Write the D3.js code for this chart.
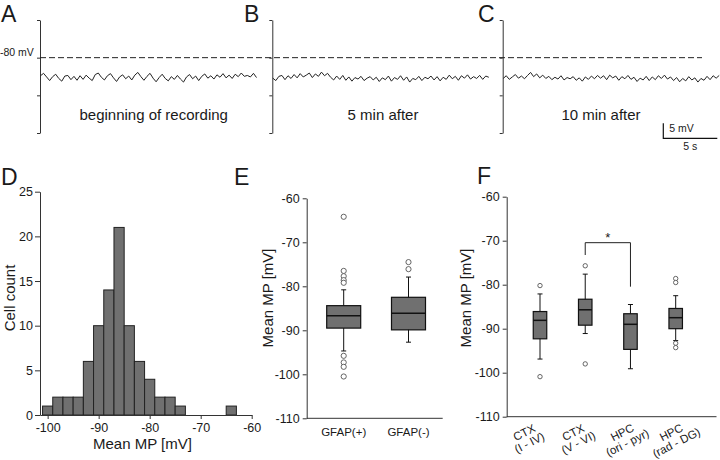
<!DOCTYPE html>
<html><head><meta charset="utf-8">
<script src="https://cdn.jsdelivr.net/npm/d3@7"></script>
<style>
html,body{margin:0;padding:0;background:#fff;}
svg{display:block;font-family:"Liberation Sans",Arial,Helvetica,sans-serif;}
</style></head>
<body><svg id="c" width="720" height="460"></svg>
<script>
// ---------- DATA ----------
const traceA = [-86.0,-85.2,-86.4,-87.6,-86.3,-85.5,-86.9,-87.8,-86.1,-85.9,-87.3,-86.2,-87.5,-86.0,-87.2,-85.8,-86.8,-87.6,-85.6,-85.1,-86.5,-87.4,-86.0,-85.3,-86.7,-87.9,-86.4,-85.7,-87.0,-86.1,-87.4,-85.8,-84.9,-86.3,-87.5,-86.2,-85.2,-86.8,-88.0,-86.6,-85.5,-86.9,-87.7,-86.3,-87.2,-85.9,-87.1,-88.1,-86.4,-85.6,-87.0,-86.1,-87.6,-86.2,-85.4,-86.8,-86.0,-87.1,-85.7,-86.5,-85.3,-86.7,-85.8,-86.9,-85.5,-86.3,-85.1,-86.2,-85.9,-86.4,-85.2,-86.6];
const traceB = [-86.8,-87.6,-86.2,-85.9,-87.3,-86.0,-86.9,-85.6,-86.7,-85.3,-86.4,-85.8,-85.1,-86.6,-85.4,-86.2,-84.8,-86.0,-85.2,-86.5,-87.4,-86.1,-87.2,-85.9,-87.5,-86.4,-87.8,-86.6,-87.1,-86.2,-87.6,-86.8,-86.3,-87.4,-86.5,-87.9,-86.7,-87.3,-86.1,-87.8,-86.6,-87.2,-86.0,-87.5,-86.4,-88.1,-86.9,-87.3,-86.2,-87.6,-86.5,-87.0,-86.1,-87.4,-86.3,-87.7,-86.5,-87.2,-85.8,-87.0,-86.2,-87.5,-86.0,-86.8,-85.7,-87.1,-86.3,-86.9,-85.9,-87.2,-86.1,-86.5];
const traceC = [-86.9,-86.0,-87.2,-86.4,-85.6,-86.8,-86.1,-87.0,-85.9,-84.9,-86.3,-85.4,-86.7,-85.8,-86.9,-86.2,-87.3,-86.5,-87.1,-86.0,-87.4,-86.6,-87.0,-86.3,-87.5,-86.7,-87.8,-86.4,-87.2,-86.1,-87.0,-85.9,-86.8,-86.0,-87.3,-85.8,-86.7,-86.1,-87.5,-86.3,-87.0,-85.9,-87.2,-86.5,-87.9,-86.8,-87.4,-86.2,-87.6,-86.4,-87.3,-86.0,-86.9,-85.8,-87.1,-86.4,-87.6,-86.6,-88.0,-86.9,-87.7,-86.3,-87.4,-86.7,-88.1,-86.9,-87.5,-86.2,-87.3,-86.0,-86.8,-85.9];
const traceCaptions = ["beginning of recording", "5 min after", "10 min after"];
const traceLetters = ["A", "B", "C"];
const traceAxisTicks = [-67.5, -80, -92.5, -105];
const traceDuration = 20; // s

const histBinStart = [-101,-99,-97,-95,-93,-91,-89,-87,-85,-83,-81,-79,-77,-75,-73,-71,-69,-67,-65];
const histCounts   = [1,2,2,2,6,10,14,21,10,6,4,2,2,1,0,0,0,0,1];
const histXTicks = [-100,-90,-80,-70,-60];
const histYTicks = [0,5,10,15,20,25];

const eGroups = ["GFAP(+)", "GFAP(-)"];
const eWhiskerHi = [-80.8, -77.9];
const eQ3        = [-84.4, -82.5];
const eMedian    = [-86.7, -86.1];
const eQ1        = [-89.5, -89.9];
const eWhiskerLo = [-94.7, -92.7];
const eOutliers  = [[-64.2,-76.5,-77.7,-78.6,-79.2,-95.8,-97.3,-98.3,-100.5], [-74.5,-76.1]];

const fGroupsL1 = ["CTX", "CTX", "HPC", "HPC"];
const fGroupsL2 = ["(I - IV)", "(V - VI)", "(ori - pyr)", "(rad - DG)"];
const fWhiskerHi = [-82.1, -77.6, -84.5, -82.5];
const fQ3        = [-86.1, -83.3, -86.6, -85.4];
const fMedian    = [-88.1, -85.7, -89.0, -87.5];
const fQ1        = [-92.3, -89.2, -94.7, -90.0];
const fWhiskerLo = [-96.9, -91.1, -99.1, -92.7];
const fOutliers  = [[-80.2,-100.9], [-75.7,-98.0], [], [-78.6,-79.5,-93.3,-94.3]];
const fSig = {from: 1, to: 2, top: -70.45, leftEnd: -73.25, rightEnd: -80.45, label: "*"};
const mpTicks = [-60,-70,-80,-90,-100,-110];

// ---------- DRAW ----------
const svg = d3.select("#c");
const TXT = "#1a1a1a", AX = "#333", FILL = "#707070";
const font = (sel, size) => sel.attr("font-size", size).attr("fill", TXT);
const fmt = d => String(d);
function styleAxis(g, size) {
  g.attr("font-family", null).attr("font-size", null);
  g.select(".domain").attr("stroke", AX);
  g.selectAll(".tick line").attr("stroke", AX);
  g.selectAll(".tick text").attr("font-size", size).attr("fill", TXT);
}

// ---- Panels A-C ----
const ty = d3.scaleLinear().domain([-105, -67.5]).range([133, 20]);
const panelX = [40, 272.3, 502.7];
const traces = [traceA, traceB, traceC];
const capX = [153.7, 383, 601];
const letterX = [1, 244, 478];
traces.forEach((tr, i) => {
  const tx = d3.scaleLinear().domain([0, traceDuration]).range([panelX[i] + 0.5, panelX[i] + 216.5]);
  const ax = d3.axisLeft(ty).tickValues(traceAxisTicks).tickSize(3).tickSizeOuter(0).tickFormat("");
  const g = svg.append("g").attr("transform", `translate(${panelX[i]},0)`).call(ax);
  styleAxis(g, "10px");
  const line = d3.line().x((d, j) => tx(j * traceDuration / (tr.length - 1))).y(d => ty(d));
  svg.append("path").datum(tr).attr("d", line).attr("fill", "none").attr("stroke", "#222").attr("stroke-width", 1);
  svg.append("text").attr("x", capX[i]).attr("y", 120).attr("text-anchor", "middle").text(traceCaptions[i]).call(font, "15px");
  svg.append("text").attr("x", letterX[i]).attr("y", 22).text(traceLetters[i]).call(font, "23px");
});
// dashed -80 mV reference
svg.append("line").attr("x1", panelX[0]).attr("x2", 702).attr("y1", ty(-80)).attr("y2", ty(-80))
  .attr("stroke", "#222").attr("stroke-dasharray", "6,3");
svg.append("text").attr("x", 0).attr("y", ty(-80) - 2).text("-80 mV").call(font, "10.5px");
// scale bar: 5 mV / 5 s
{
  const pxPerS = 216 / traceDuration;
  const x0 = 663.3, y0 = 138.3;
  const mv5 = ty(-80) - ty(-75);
  svg.append("path").attr("d", `M${x0},${y0 - mv5}V${y0}H${x0 + 5 * pxPerS}`).attr("fill", "none").attr("stroke", "#111").attr("stroke-width", 1.2);
  svg.append("text").attr("x", x0 + 6).attr("y", 131.5).text("5 mV").call(font, "10.5px");
  svg.append("text").attr("x", x0 + 2.5 * pxPerS).attr("y", 150).attr("text-anchor", "middle").text("5 s").call(font, "10.5px");
}

// ---- Panel D: histogram ----
{
  const x = d3.scaleLinear().domain([-101.5, -60]).range([40, 251.7]);
  const y = d3.scaleLinear().domain([0, 25]).range([415, 191.7]);
  const bins = histCounts.map((c, i) => ({s: histBinStart[i], c})).filter(d => d.c > 0);
  svg.selectAll("rect.hb").data(bins).join("rect").attr("class", "hb")
    .attr("x", d => x(d.s)).attr("width", d => x(d.s + 2) - x(d.s))
    .attr("y", d => y(d.c)).attr("height", d => y(0) - y(d.c))
    .attr("fill", FILL).attr("stroke", "#222").attr("stroke-width", 1);
  const gy = svg.append("g").attr("transform", "translate(40,0)").call(d3.axisLeft(y).tickValues(histYTicks).tickFormat(fmt).tickSize(5).tickSizeOuter(0));
  const gx = svg.append("g").attr("transform", "translate(0,415)").call(d3.axisBottom(x).tickValues(histXTicks).tickFormat(fmt).tickSize(4).tickSizeOuter(0));
  styleAxis(gy, "12.5px"); styleAxis(gx, "12.5px");
  gy.selectAll(".tick text").attr("x", -7);
  gx.selectAll(".tick text").attr("y", 8);
  svg.append("text").attr("x", 142.5).attr("y", 449).attr("text-anchor", "middle").text("Mean MP [mV]").call(font, "15px");
  svg.append("text").attr("transform", "translate(15,298) rotate(-90)").attr("text-anchor", "middle").text("Cell count").call(font, "15px");
  svg.append("text").attr("x", 1).attr("y", 185).text("D").call(font, "23px");
}

// ---- Box plot helper ----
function boxPanel(opt) {
  const y = d3.scaleLinear().domain([-110, -60]).range([opt.y0, opt.y1]);
  const x = opt.x;
  const gy = svg.append("g").attr("transform", `translate(${opt.ax},0)`).call(d3.axisLeft(y).tickValues(mpTicks).tickFormat(fmt).tickSize(4).tickSizeOuter(0));
  styleAxis(gy, "12.5px");
  gy.selectAll(".tick text").attr("x", -7);
  svg.append("line").attr("x1", opt.ax).attr("x2", opt.axEnd).attr("y1", y(-110)).attr("y2", y(-110)).attr("stroke", AX);
  const idx = d3.range(opt.groups.length);
  idx.forEach(i => {
    const cx = x(i), hw = opt.bw / 2;
    svg.append("line").attr("x1", cx).attr("x2", cx).attr("y1", y(opt.hi[i])).attr("y2", y(opt.lo[i])).attr("stroke", "#111");
    [opt.hi[i], opt.lo[i]].forEach(v => svg.append("line").attr("x1", cx - 2.5).attr("x2", cx + 2.5).attr("y1", y(v)).attr("y2", y(v)).attr("stroke", "#111"));
    svg.append("rect").attr("x", cx - hw).attr("width", opt.bw).attr("y", y(opt.q3[i])).attr("height", y(opt.q1[i]) - y(opt.q3[i]))
      .attr("fill", FILL).attr("stroke", "#111").attr("stroke-width", 1.2);
    svg.append("line").attr("x1", cx - hw).attr("x2", cx + hw).attr("y1", y(opt.med[i])).attr("y2", y(opt.med[i])).attr("stroke", "#111").attr("stroke-width", 1.5);
    svg.selectAll(null).data(opt.out[i]).join("circle").attr("cx", cx).attr("cy", d => y(d)).attr("r", opt.r)
      .attr("fill", "#fff").attr("stroke", "#555").attr("stroke-width", 0.9);
  });
  svg.append("text").attr("transform", `translate(${opt.titleX},298) rotate(-90)`).attr("text-anchor", "middle").text("Mean MP [mV]").call(font, "15px");
  return y;
}

// ---- Panel E ----
{
  const x = d3.scalePoint().domain([0, 1]).range([343.7, 408.5]);
  boxPanel({x, ax: 306.7, axEnd: 442.7, y0: 418.3, y1: 198.3, groups: eGroups, bw: 34,
    hi: eWhiskerHi, q3: eQ3, med: eMedian, q1: eQ1, lo: eWhiskerLo, out: eOutliers, r: 2.6, titleX: 273});
  eGroups.forEach((g, i) => svg.append("text").attr("x", x(i)).attr("y", 436).attr("text-anchor", "middle").text(g).call(font, "11.5px"));
  svg.append("text").attr("x", 234).attr("y", 185).text("E").call(font, "23px");
}

// ---- Panel F ----
{
  const x = d3.scalePoint().domain([0, 1, 2, 3]).range([540, 675.7]);
  const y = boxPanel({x, ax: 506.7, axEnd: 716.5, y0: 416.7, y1: 196.7, groups: fGroupsL1, bw: 13.5,
    hi: fWhiskerHi, q3: fQ3, med: fMedian, q1: fQ1, lo: fWhiskerLo, out: fOutliers, r: 2.2, titleX: 471});
  const lx = d3.scalePoint().domain([0, 1, 2, 3]).range([526, 673]);
  fGroupsL1.forEach((g, i) => {
    const t = svg.append("g").attr("transform", `translate(${lx(i)},436) rotate(-27)`);
    t.append("text").attr("x", 0).attr("y", 0).attr("text-anchor", "middle").text(g).call(font, "11.5px");
    t.append("text").attr("x", 0).attr("y", 11.5).attr("text-anchor", "middle").text(fGroupsL2[i]).call(font, "11.5px");
  });
  const xa = x(fSig.from), xb = x(fSig.to);
  svg.append("path").attr("d", `M${xa},${y(fSig.leftEnd)}V${y(fSig.top)}H${xb}V${y(fSig.rightEnd)}`)
    .attr("fill", "none").attr("stroke", "#222");
  svg.append("text").attr("x", (xa + xb) / 2).attr("y", y(fSig.top) - 1).attr("text-anchor", "middle").text(fSig.label).call(font, "13px");
  svg.append("text").attr("x", 477).attr("y", 184).text("F").call(font, "23px");
}
</script></body></html>
